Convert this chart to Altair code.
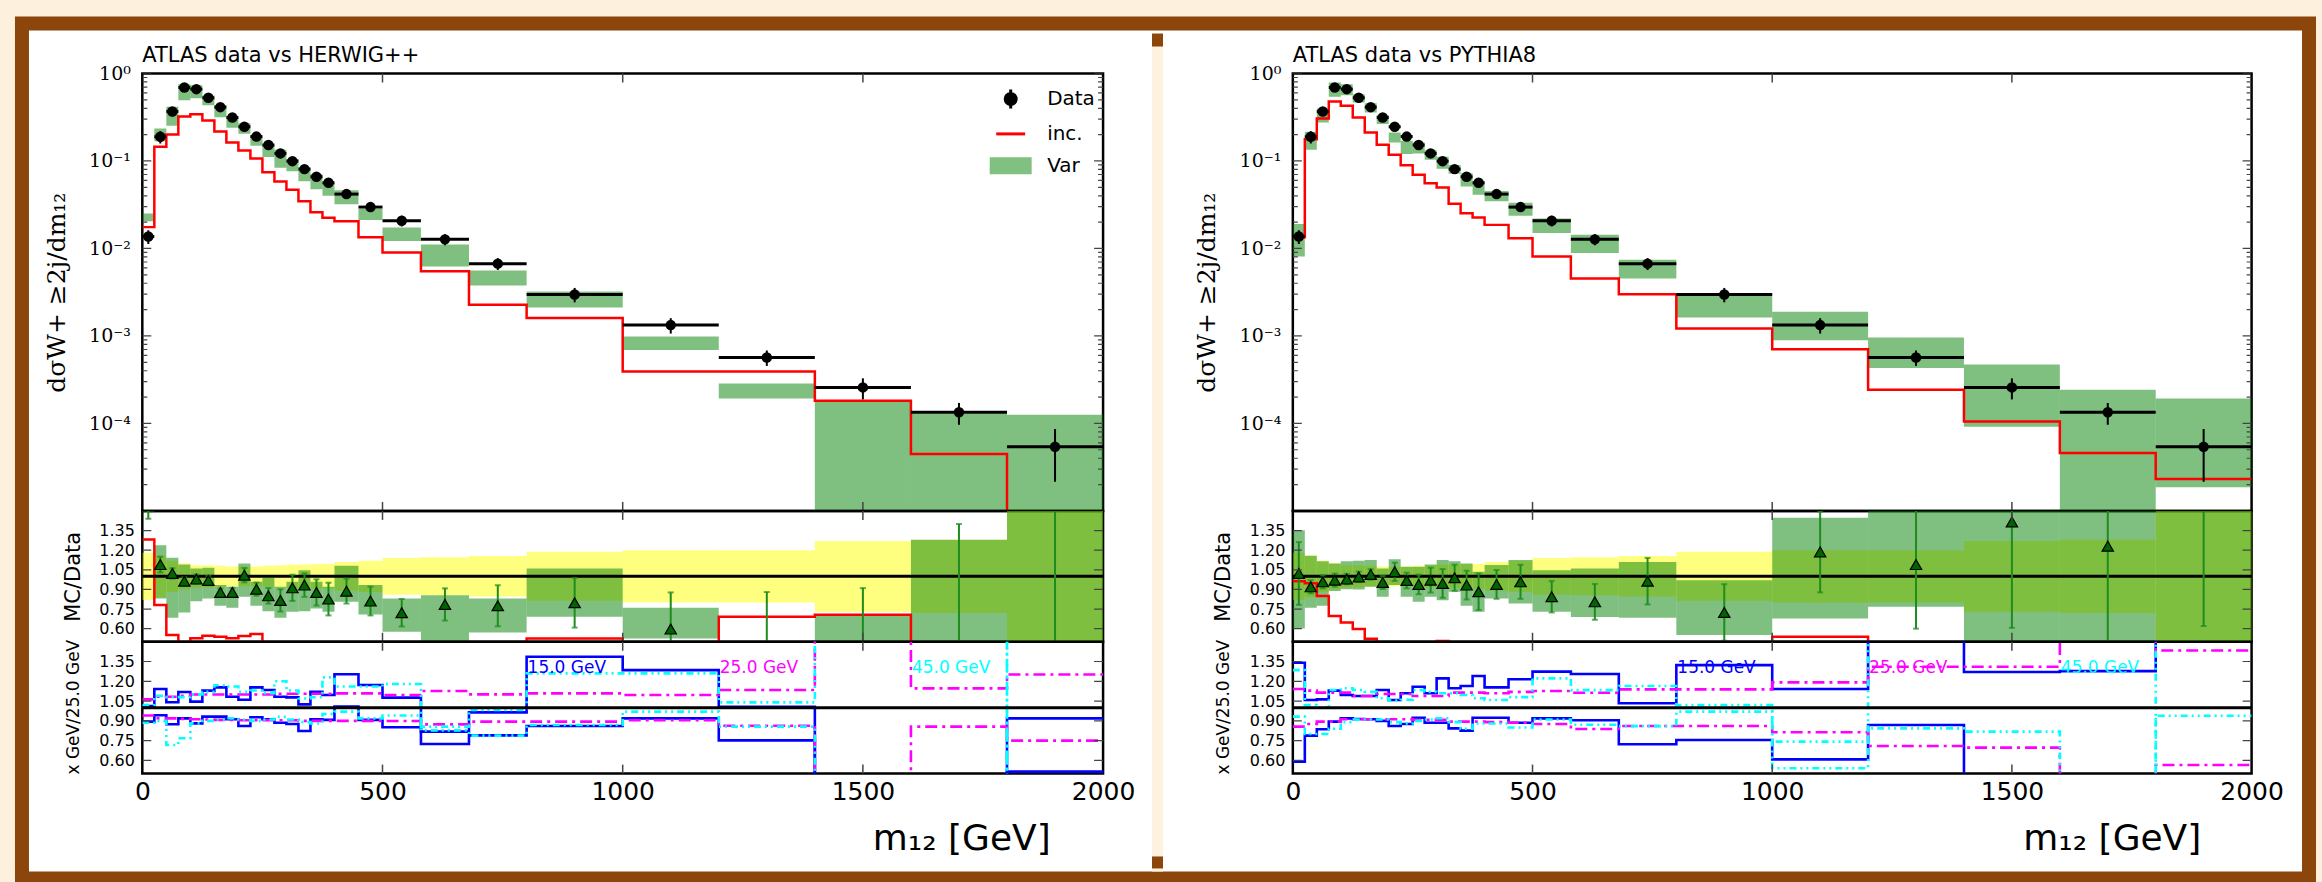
import altair as alt
import pandas as pd

# ---------------- data ----------------
EDGES = [0, 25, 50, 75, 100, 125, 150, 175, 200, 225, 250, 275, 300, 325, 350, 375,
         400, 450, 500, 580, 680, 800, 1000, 1200, 1400, 1600, 1800, 2000]
DATA = [0.0137, 0.189, 0.368, 0.692, 0.662, 0.527, 0.412, 0.314, 0.246, 0.19, 0.152,
        0.122, 0.0995, 0.0807, 0.0659, 0.0563, 0.0418, 0.0297, 0.0207, 0.0127, 0.0067,
        0.00298, 0.00133, 0.000568, 0.000258, 0.000134, 0.000054]
DATA_RELERR = [0.18, 0.16, 0.12, 0.10, 0.085, 0.085, 0.08, 0.075, 0.075, 0.075, 0.08,
               0.085, 0.09, 0.09, 0.095, 0.095, 0.11, 0.12, 0.14, 0.145, 0.155, 0.187,
               0.2, 0.2, 0.27, 0.28, 0.6]

# HERWIG++
HW_INC = [0.01753, 0.145, 0.201, 0.323, 0.343, 0.29, 0.217, 0.163, 0.132, 0.107, 0.0745,
          0.0583, 0.0469, 0.0347, 0.026, 0.0224, 0.0204, 0.0134, 0.009, 0.0055, 0.00227,
          0.0016, 3.93e-4, 3.93e-4, 1.82e-4, 4.46e-5, 1e-6]
HW_VAR_HI = [0.0251, 0.235, 0.416, 0.755, 0.736, 0.556, 0.434, 0.314, 0.27, 0.194, 0.152,
             0.134, 0.105, 0.0843, 0.0707, 0.0568, 0.0464, 0.0282, 0.0174, 0.0111, 0.00561,
             0.00323, 9.87e-4, 2.86e-4, 1.78e-4, 1.31e-4, 1.26e-4]
HW_VAR_LO = [0.0204, 0.168, 0.252, 0.495, 0.522, 0.434, 0.317, 0.239, 0.205, 0.149, 0.111,
             0.0836, 0.0765, 0.0588, 0.0476, 0.04, 0.0321, 0.0211, 0.0122, 0.00622, 0.00378,
             0.00212, 6.89e-4, 1.93e-4, 5e-6, 5e-6, 5e-6]
HW_R_TRI = [1.7, 1.09, 1.022, 0.963, 0.979, 0.968, 0.877, 0.877, 1.009, 0.902, 0.851, 0.816,
            0.912, 0.933, 0.877, 0.826, 0.887, 0.811, 0.722, 0.785, 0.775, 0.798, 0.597, 0.45,
            0.46, 0.45, 1.7]
HW_R_ERR = [0.26, 0.06, 0.04, 0.03, 0.035, 0.035, 0.03, 0.035, 0.055, 0.05, 0.06, 0.085, 0.1,
            0.09, 0.1, 0.125, 0.095, 0.11, 0.105, 0.123, 0.157, 0.19, 0.28, 0.43, 0.45, 0.95, 1.3]
HW_R_VAR_HI = [1.83, 1.238, 1.142, 1.09, 1.06, 1.065, 0.933, 0.92, 1.098, 0.958, 0.989, 0.92,
               0.958, 1.047, 0.958, 0.92, 1.08, 0.933, 0.831, 0.856, 0.83, 1.06, 0.76, 0.49,
               0.709, 1.28, 2.3]
HW_R_VAR_LO = [1.49, 0.831, 0.683, 0.724, 0.81, 0.831, 0.775, 0.76, 0.844, 0.775, 0.734, 0.683,
               0.729, 0.734, 0.755, 0.729, 0.806, 0.709, 0.577, 0.45, 0.571, 0.691, 0.525, 0.34,
               0.04, 0.07, 0.2]
HW_R_INC = [1.282, 0.78, 0.551, 0.467, 0.526, 0.546, 0.538, 0.526, 0.544, 0.559, 0.49, 0.48,
            0.47, 0.43, 0.39, 0.40, 0.49, 0.45, 0.43, 0.44, 0.34, 0.525, 0.30, 0.691, 0.706,
            0.33, 0.02]
HW_BLUE_UP = [1.013, 1.141, 1.041, 1.119, 1.046, 1.129, 1.154, 1.083, 1.06, 1.154, 1.134,
              1.083, 1.078, 1.025, 1.121, 1.096, 1.253, 1.172, 1.076, 0.818, 0.964, 1.386,
              1.285, 1.007, 0.2, 0.2, 0.919]
HW_BLUE_DN = [0.894, 0.942, 0.874, 0.919, 0.881, 0.932, 0.932, 0.912, 0.861, 0.927, 0.912,
              0.886, 0.876, 0.823, 0.912, 0.907, 1.008, 0.907, 0.851, 0.724, 0.79, 0.861,
              0.919, 0.752, 0.2, 0.2, 0.515]
HW_MAG_UP = [1.063, 1.083, 1.083, 1.09, 1.10, 1.10, 1.10, 1.10, 1.10, 1.10, 1.10, 1.105, 1.105,
             1.105, 1.105, 1.105, 1.108, 1.108, 1.096, 1.126, 1.101, 1.108, 1.096, 1.134, 1.6,
             1.146, 1.252]
HW_MAG_DN = [0.94, 0.919, 0.919, 0.915, 0.912, 0.91, 0.907, 0.907, 0.905, 0.905, 0.905, 0.905,
             0.905, 0.9, 0.9, 0.9, 0.9, 0.9, 0.899, 0.873, 0.894, 0.894, 0.904, 0.863, 0.3,
             0.856, 0.75]
HW_CYAN_UP = [1.02, 1.09, 1.08, 1.08, 1.10, 1.12, 1.17, 1.16, 1.12, 1.13, 1.11, 1.2, 1.13, 1.07,
              1.08, 1.23, 1.16, 1.16, 1.18, 0.856, 0.982, 1.26, 1.26, 1.04, 1.6, 1.6, 0.3]
HW_CYAN_DN = [0.886, 0.90, 0.717, 0.768, 0.881, 0.90, 0.91, 0.92, 0.91, 0.90, 0.91, 0.93, 0.91,
              0.89, 0.88, 0.952, 0.97, 0.919, 0.94, 0.828, 0.788, 0.868, 0.97, 0.856, 0.3, 0.3,
              1.6]

# PYTHIA8
PY_INC = [0.0134, 0.177, 0.306, 0.479, 0.428, 0.314, 0.212, 0.153, 0.118, 0.0895, 0.0695,
          0.0558, 0.0498, 0.0324, 0.0253, 0.0226, 0.0186, 0.0131, 0.0081, 0.00454, 0.003,
          0.00122, 7.06e-4, 2.43e-4, 1.05e-4, 4.58e-5, 2.31e-5]
PY_VAR_HI = [0.019, 0.216, 0.398, 0.789, 0.755, 0.58, 0.458, 0.333, 0.212, 0.17, 0.163, 0.133,
             0.112, 0.09, 0.0724, 0.0583, 0.0454, 0.0334, 0.022, 0.0143, 0.00742, 0.00308,
             0.00189, 9.62e-4, 4.72e-4, 2.43e-4, 1.93e-4]
PY_VAR_LO = [0.0081, 0.134, 0.275, 0.541, 0.565, 0.466, 0.358, 0.265, 0.163, 0.12, 0.122, 0.103,
             0.0814, 0.0712, 0.0511, 0.041, 0.0347, 0.0236, 0.015, 0.00885, 0.00454, 0.00163,
             8.95e-4, 4.29e-4, 9.16e-5, 5e-6, 1.86e-5]
PY_R_TRI = [1.022, 0.92, 0.958, 0.971, 0.979, 0.996, 1.014, 0.953, 1.035, 0.968, 0.938, 0.971,
            0.946, 0.989, 0.933, 0.882, 0.938, 0.958, 0.844, 0.805, 0.963, 0.724, 1.187, 1.09,
            1.416, 1.23, 1.62]
PY_R_ERR = [0.24, 0.05, 0.05, 0.05, 0.04, 0.04, 0.04, 0.05, 0.07, 0.06, 0.075, 0.095, 0.11, 0.1,
            0.11, 0.14, 0.11, 0.13, 0.12, 0.137, 0.178, 0.216, 0.31, 0.49, 0.81, 0.8, 1.0]
PY_R_VAR_HI = [1.353, 1.157, 1.116, 1.098, 1.116, 1.12, 1.124, 1.06, 1.131, 1.073, 1.073, 1.091,
               1.124, 1.116, 1.098, 1.035, 1.086, 1.124, 1.047, 1.06, 1.11, 0.97, 1.447, 1.6,
               1.6, 1.6, 1.6]
PY_R_VAR_LO = [0.602, 0.76, 0.775, 0.887, 0.902, 0.90, 0.92, 0.844, 0.933, 0.844, 0.806, 0.844,
               0.818, 0.882, 0.775, 0.729, 0.831, 0.793, 0.729, 0.69, 0.683, 0.551, 0.678, 0.767,
               0.4, 0.4, 0.4]
PY_R_INC = [0.963, 0.948, 0.849, 0.696, 0.648, 0.597, 0.523, 0.49, 0.48, 0.47, 0.46, 0.46, 0.505,
            0.40, 0.38, 0.40, 0.445, 0.44, 0.39, 0.357, 0.448, 0.41, 0.538, 0.43, 0.41, 0.34,
            0.43]
PY_BLUE_UP = [1.341, 1.058, 1.063, 1.129, 1.096, 1.088, 1.088, 1.134, 1.058, 1.109, 1.159, 1.109,
              1.222, 1.147, 1.164, 1.24, 1.154, 1.215, 1.273, 1.255, 1.033, 1.323, 1.141, 1.6,
              1.27, 1.277, 1.6]
PY_BLUE_DN = [0.591, 0.788, 0.836, 0.894, 0.919, 0.914, 0.912, 0.90, 0.861, 0.876, 0.924, 0.886,
              0.886, 0.843, 0.826, 0.924, 0.924, 0.886, 0.919, 0.904, 0.722, 0.755, 0.608, 0.868,
              0.3, 0.3, 0.3]
PY_MAG_UP = [1.141, 1.129, 1.114, 1.114, 1.114, 1.088, 1.088, 1.104, 1.104, 1.104, 1.088, 1.088,
             1.088, 1.114, 1.114, 1.114, 1.109, 1.12, 1.126, 1.113, 1.139, 1.139, 1.192, 1.31,
             1.31, 1.6, 1.434]
PY_MAG_DN = [0.856, 0.876, 0.894, 0.894, 0.912, 0.912, 0.912, 0.912, 0.912, 0.912, 0.907, 0.907,
             0.907, 0.894, 0.894, 0.894, 0.89, 0.886, 0.876, 0.838, 0.861, 0.861, 0.813, 0.709,
             0.697, 0.3, 0.565]
PY_CYAN_UP = [1.285, 1.02, 1.0, 1.134, 1.147, 1.134, 1.12, 1.071, 1.053, 1.06, 1.134, 1.12, 1.109,
              1.11, 1.096, 1.071, 1.058, 1.08, 1.222, 1.133, 1.164, 1.02, 0.742, 0.843, 0.818,
              0.3, 0.939]
PY_CYAN_DN = [0.932, 0.80, 0.80, 0.84, 0.89, 0.91, 0.91, 0.91, 0.89, 0.88, 0.90, 0.91, 0.92,
              0.89, 0.84, 0.88, 0.88, 0.85, 0.91, 0.87, 0.86, 0.97, 0.54, 1.6, 1.6, 1.6, 0.3]

X_TICKS = [500, 1000, 1500]
X_LABELS = [0, 500, 1000, 1500, 2000]
LOG_MAJOR = [1e-5, 1e-4, 1e-3, 1e-2, 1e-1, 1.0]
LOG_LABELS = [1e-4, 1e-3, 1e-2, 1e-1, 1.0]
LOG_MINOR = [m * d for d in [1e-5, 1e-4, 1e-3, 1e-2, 1e-1] for m in range(2, 10)]
R_TICKS = [0.6, 0.75, 0.9, 1.05, 1.2, 1.35]
LEG_NAMES = ["Data", "inc.", "Var"]
VAR_LABELS = ["15.0 GeV", "25.0 GeV", "45.0 GeV"]
VAR_LABEL_X = [800, 1200, 1600]
VAR_LABEL_Y = [1.30, 1.30, 1.30]
VAR_COLORS = ["#0000ff", "#ff00ff", "#00ffff"]

# ---------------- styling ----------------
CREAM = "#fdf0dc"
BROWN = "#8c460c"
TICK = "#444444"
H1, H2, H3 = 438, 131, 132
XS = alt.Scale(domain=[0, 2000], nice=False, zero=False)
YLOG = alt.Scale(type="log", domain=[1e-5, 1.0], nice=False)
YR = alt.Scale(domain=[0.5, 1.5], nice=False, zero=False)


def bins(**cols):
    df = pd.DataFrame({"lo": EDGES[:-1], "hi": EDGES[1:]})
    df["c"] = (df["lo"] + df["hi"]) / 2.0
    for k, v in cols.items():
        df[k] = v
    return df


def steps(vals):
    return pd.DataFrame({"x": EDGES[:-1] + [EDGES[-1]], "y": list(vals) + [vals[-1]]})


def tick_layers(W, H, xaxis, yscale, yaxis, ymaj, ymin=None, lmaj=9, lmin=5):
    lay = []
    xt = pd.DataFrame({"v": X_TICKS})
    lay.append(alt.Chart(xt).mark_rule(color=TICK, strokeWidth=1.5).encode(
        x=alt.X("v:Q", scale=XS, axis=xaxis), y=alt.value(0), y2=alt.value(lmaj)))
    lay.append(alt.Chart(xt).mark_rule(color=TICK, strokeWidth=1.5).encode(
        x=alt.X("v:Q", scale=XS, axis=xaxis), y=alt.value(H - lmaj), y2=alt.value(H)))
    for vals, ln in [(ymaj, lmaj), (ymin, lmin)]:
        if not vals:
            continue
        yt = pd.DataFrame({"v": vals})
        lay.append(alt.Chart(yt).mark_rule(color=TICK, strokeWidth=1.2, clip=True).encode(
            y=alt.Y("v:Q", scale=yscale, axis=yaxis), x=alt.value(0), x2=alt.value(ln)))
        lay.append(alt.Chart(yt).mark_rule(color=TICK, strokeWidth=1.2, clip=True).encode(
            y=alt.Y("v:Q", scale=yscale, axis=yaxis), x=alt.value(W - ln), x2=alt.value(W)))
    return lay


def main_chart(W, title, inc, vhi, vlo, decorate=False):
    yaxis = alt.Axis(values=LOG_LABELS, ticks=False, domain=False, grid=False, zindex=2,
                     labelFont="DejaVu Serif", labelFontSize=19, labelPadding=12,
                     labelExpr="datum.value > 0.5 ? '10⁰' : datum.value > 0.05 ? '10⁻¹' : "
                               "datum.value > 0.005 ? '10⁻²' : datum.value > 0.0005 ? '10⁻³' : '10⁻⁴'",
                     title="dσW+ ≥2j/dm₁₂", titleFont="DejaVu Serif", titleFontSize=25,
                     titleFontWeight="normal", titleX=-86, titleY=H1 / 2, titleAngle=-90,
                     titleAlign="center", titleBaseline="middle")
    df = bins(val=DATA, rel=DATA_RELERR, vhi=vhi, vlo=vlo)
    df["elo"] = df["val"] * (1 - df["rel"])
    df["ehi"] = df["val"] * (1 + df["rel"])
    layers = []
    one = pd.DataFrame({"t": [title]})
    if decorate:
        layers.append(alt.Chart(one).mark_rect(fill="white", stroke=BROWN, strokeWidth=14).encode(
            x=alt.value(-120.5), x2=alt.value(2169.5), y=alt.value(-50), y2=alt.value(806)))
        layers.append(alt.Chart(one).mark_rect(fill="#fdf1e0").encode(
            x=alt.value(1011), x2=alt.value(1022), y=alt.value(-40), y2=alt.value(799)))
        layers.append(alt.Chart(one).mark_rect(fill=BROWN).encode(
            x=alt.value(1011), x2=alt.value(1022), y=alt.value(-40), y2=alt.value(-27)))
        layers.append(alt.Chart(one).mark_rect(fill=BROWN).encode(
            x=alt.value(1011), x2=alt.value(1022), y=alt.value(784), y2=alt.value(796)))
        layers.append(alt.Chart(one).mark_rect(fillOpacity=0, stroke="black", strokeWidth=2.5).encode(
            x=alt.value(0), x2=alt.value(W), y=alt.value(0), y2=alt.value(H1)))
    layers.append(alt.Chart(one).mark_text(align="left", baseline="alphabetic", fontSize=21,
                                           font="DejaVu Sans", color="black").encode(
        x=alt.value(0), y=alt.value(-11), text="t:N"))
    base = alt.Chart(df)
    layers.append(base.mark_rect(color="#008000", opacity=0.5, clip=True).encode(
        x=alt.X("lo:Q", scale=XS, axis=None), x2="hi:Q",
        y=alt.Y("vlo:Q", scale=YLOG, axis=yaxis), y2="vhi:Q"))
    layers.append(alt.Chart(steps(inc)).mark_line(interpolate="step-after", color="#ff0000",
                                                  strokeWidth=2.5, clip=True).encode(
        x=alt.X("x:Q", scale=XS, axis=None), y=alt.Y("y:Q", scale=YLOG, axis=yaxis)))
    layers.append(base.mark_rule(color="black", strokeWidth=3).encode(
        x=alt.X("lo:Q", scale=XS, axis=None), x2="hi:Q", y=alt.Y("val:Q", scale=YLOG, axis=yaxis)))
    layers.append(base.mark_rule(color="black", strokeWidth=2, clip=True).encode(
        x=alt.X("c:Q", scale=XS, axis=None), y=alt.Y("elo:Q", scale=YLOG, axis=yaxis), y2="ehi:Q"))
    layers.append(base.mark_point(shape="circle", filled=True, color="black", size=110, opacity=1).encode(
        x=alt.X("c:Q", scale=XS, axis=None), y=alt.Y("val:Q", scale=YLOG, axis=yaxis)))
    layers += tick_layers(W, H1, None, YLOG, yaxis, LOG_MAJOR, LOG_MINOR, 9, 5)
    leg = alt.Legend(title=None, orient="none", legendX=858, legendY=14, symbolSize=400,
                     symbolStrokeWidth=3, labelFont="DejaVu Sans", labelFontSize=20,
                     labelOffset=25, rowPadding=8, padding=0, zindex=2, labelColor="black")
    P_DATA = "M0,-0.95L0,0.95M-0.55,0A0.55,0.55,0,1,0,0.55,0A0.55,0.55,0,1,0,-0.55,0Z"
    P_LINE = "M-1.45,0L1.45,0"
    P_RECT = "M-1.95,-0.7L1.95,-0.7L1.95,0.7L-1.95,0.7Z"
    cols = ["black", "#ff0000", "#80c080"]
    layers.append(alt.Chart(pd.DataFrame({"s": LEG_NAMES})).transform_filter("datum.s == 'none'")
                  .mark_point(filled=True, opacity=1).encode(
        fill=alt.Fill("s:N", scale=alt.Scale(domain=LEG_NAMES, range=cols), legend=leg),
        stroke=alt.Stroke("s:N", scale=alt.Scale(domain=LEG_NAMES, range=cols), legend=leg),
        shape=alt.Shape("s:N", scale=alt.Scale(domain=LEG_NAMES, range=[P_DATA, P_LINE, P_RECT]),
                        legend=leg)))
    return alt.layer(*layers).properties(width=W, height=H1)


def ratio_chart(W, tri, err, rvhi, rvlo, rinc):
    yaxis = alt.Axis(values=R_TICKS, format=".2f", ticks=False, domain=False, grid=False, zindex=2,
                     labelFontSize=16, labelPadding=8, title="MC/Data", titleFontSize=21,
                     titleFontWeight="normal", titleX=-69, titleY=H2 / 2, titleAngle=-90,
                     titleAlign="center", titleBaseline="middle")
    df = bins(rel=DATA_RELERR, tri=tri, err=err, vhi=rvhi, vlo=rvlo)
    df["ylo"] = 1 - df["rel"]
    df["yhi"] = 1 + df["rel"]
    df["tlo"] = df["tri"] - df["err"]
    df["thi"] = df["tri"] + df["err"]
    base = alt.Chart(df)
    X = lambda f: alt.X(f, scale=XS, axis=None)
    Y = lambda f: alt.Y(f, scale=YR, axis=yaxis)
    layers = [
        base.mark_rect(color="#ffff00", opacity=0.5, clip=True).encode(x=X("lo:Q"), x2="hi:Q", y=Y("ylo:Q"), y2="yhi:Q"),
        base.mark_rect(color="#008000", opacity=0.5, clip=True).encode(x=X("lo:Q"), x2="hi:Q", y=Y("vlo:Q"), y2="vhi:Q"),
        alt.Chart(steps(rinc)).mark_line(interpolate="step-after", color="#ff0000", strokeWidth=2.5, clip=True).encode(
            x=X("x:Q"), y=Y("y:Q")),
        alt.Chart(pd.DataFrame({"v": [1.0]})).mark_rule(color="black", strokeWidth=3).encode(y=Y("v:Q")),
        base.mark_rule(color="#1e8c1e", strokeWidth=2, clip=True).encode(x=X("c:Q"), y=Y("tlo:Q"), y2="thi:Q"),
        base.mark_point(shape="stroke", size=36, color="#1e8c1e", strokeWidth=2, clip=True).encode(x=X("c:Q"), y=Y("tlo:Q")),
        base.mark_point(shape="stroke", size=36, color="#1e8c1e", strokeWidth=2, clip=True).encode(x=X("c:Q"), y=Y("thi:Q")),
        base.mark_point(shape="triangle-up", filled=True, fill="#006400", stroke="black", strokeWidth=1.2,
                        size=130, opacity=1, clip=True).encode(x=X("c:Q"), y=Y("tri:Q")),
    ]
    layers += tick_layers(W, H2, None, YR, yaxis, R_TICKS, None, 9, 5)
    return alt.layer(*layers).properties(width=W, height=H2)


def var_chart(W, bu, bd, mu, md, cu, cd):
    yaxis = alt.Axis(values=R_TICKS, format=".2f", ticks=False, domain=False, grid=False, zindex=2,
                     labelFontSize=16, labelPadding=8, title="x GeV/25.0 GeV", titleFontSize=17,
                     titleFontWeight="normal", titleX=-69, titleY=65, titleAngle=-90,
                     titleAlign="center", titleBaseline="middle")
    xaxis = alt.Axis(values=X_LABELS, format="d", ticks=False, domain=False, grid=False, zindex=2,
                     labelFontSize=25, labelPadding=6, labelFlush=False, title="m₁₂ [GeV]",
                     titleFontSize=36, titleFontWeight="normal", titleX=820, titleY=65,
                     titleAlign="center", titleBaseline="middle")
    X = lambda f: alt.X(f, scale=XS, axis=xaxis)
    Y = lambda f: alt.Y(f, scale=YR, axis=yaxis)
    layers = []
    specs = [(bu, "#0000ff", []), (bd, "#0000ff", []),
             (mu, "#ff00ff", [12, 5, 3, 5]), (md, "#ff00ff", [12, 5, 3, 5]),
             (cu, "#00ffff", [7, 4, 2, 4, 2, 4]), (cd, "#00ffff", [7, 4, 2, 4, 2, 4])]
    for vals, col, dash in specs:
        kw = dict(interpolate="step-after", color=col, strokeWidth=2.6, clip=True)
        if dash:
            kw["strokeDash"] = dash
        layers.append(alt.Chart(steps(vals)).mark_line(**kw).encode(x=X("x:Q"), y=Y("y:Q")))
    layers.append(alt.Chart(pd.DataFrame({"v": [1.0]})).mark_rule(color="black", strokeWidth=3).encode(y=Y("v:Q")))
    lab = pd.DataFrame({"t": VAR_LABELS, "x": VAR_LABEL_X, "y": VAR_LABEL_Y, "col": VAR_COLORS})
    layers.append(alt.Chart(lab).mark_text(align="left", baseline="middle", fontSize=17, dx=1).encode(
        x=X("x:Q"), y=Y("y:Q"), text="t:N", color=alt.Color("col:N", scale=None)))
    layers += tick_layers(W, H3, xaxis, YR, yaxis, R_TICKS, None, 9, 5)
    return alt.layer(*layers).properties(width=W, height=H3)


WL, WR = 962, 960
charts = [
    main_chart(WL, "ATLAS data vs HERWIG++", HW_INC, HW_VAR_HI, HW_VAR_LO, True),
    main_chart(WR, "ATLAS data vs PYTHIA8", PY_INC, PY_VAR_HI, PY_VAR_LO, False),
    ratio_chart(WL, HW_R_TRI, HW_R_ERR, HW_R_VAR_HI, HW_R_VAR_LO, HW_R_INC),
    ratio_chart(WR, PY_R_TRI, PY_R_ERR, PY_R_VAR_HI, PY_R_VAR_LO, PY_R_INC),
    var_chart(WL, HW_BLUE_UP, HW_BLUE_DN, HW_MAG_UP, HW_MAG_DN, HW_CYAN_UP, HW_CYAN_DN),
    var_chart(WR, PY_BLUE_UP, PY_BLUE_DN, PY_MAG_UP, PY_MAG_DN, PY_CYAN_UP, PY_CYAN_DN),
]

chart = alt.concat(*charts, columns=2, spacing={"row": 0, "column": 190}, bounds="flush").properties(
    background=CREAM, padding={"left": 13.5, "top": 14, "right": 4.5, "bottom": 0}
).configure(font="DejaVu Sans").configure_view(stroke="black", strokeWidth=2.5).configure_axis(
    zindex=2, labelColor="black", titleColor="black")

chart.save("out.html", embed_options={"renderer": "svg", "actions": False})
